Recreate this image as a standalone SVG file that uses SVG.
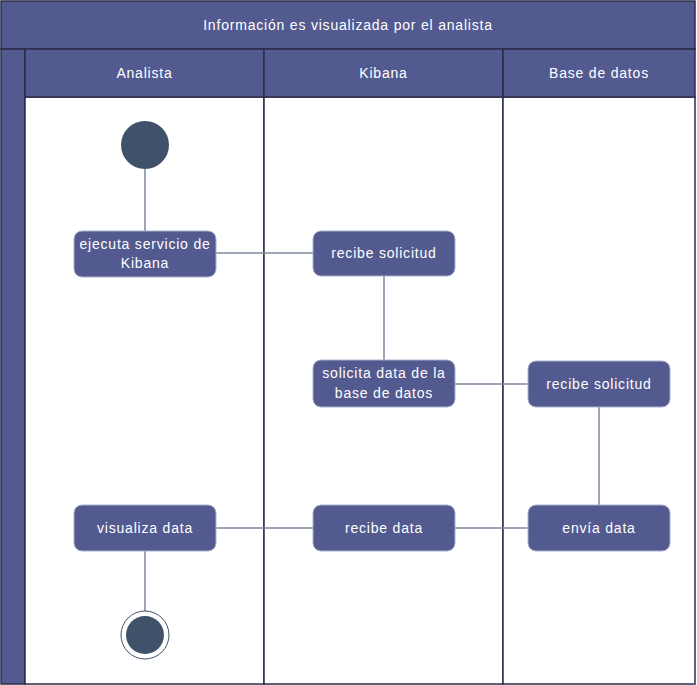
<svg xmlns="http://www.w3.org/2000/svg" width="697" height="685" viewBox="0 0 697 685">
<style>
.band{fill:#535a8f;stroke:#2b2d4a;stroke-width:1.5}
.lane{fill:#ffffff;stroke:#2b2d4a;stroke-width:1.5}
.node{fill:#535a8f;stroke:#aab0cc;stroke-width:1}
.t{font-family:"Liberation Sans",Arial,sans-serif;font-size:14px;fill:#ffffff;text-anchor:middle;letter-spacing:0.8px}
.c{stroke:#7d889b;stroke-width:1.5;fill:none}
.dot{fill:#3f5269}
</style>
<g id="pool">
<rect class="band" x="1" y="1" width="694" height="48"/>
<text class="t" x="348" y="30">Información es visualizada por el analista</text>
<rect class="band" x="1" y="49" width="24" height="635"/>
</g>
<g id="lane-analista">
<rect class="lane" x="25" y="97" width="239" height="587"/>
<rect class="band" x="25" y="49" width="239" height="48"/>
<text class="t" x="144.5" y="78">Analista</text>
</g>
<g id="lane-kibana">
<rect class="lane" x="264" y="97" width="239" height="587"/>
<rect class="band" x="264" y="49" width="239" height="48"/>
<text class="t" x="383.5" y="78">Kibana</text>
</g>
<g id="lane-bd">
<rect class="lane" x="503" y="97" width="192" height="587"/>
<rect class="band" x="503" y="49" width="192" height="48"/>
<text class="t" x="599" y="78">Base de datos</text>
</g>
<g id="connectors">
<line class="c" x1="145" y1="169" x2="145" y2="231"/>
<line class="c" x1="216" y1="253" x2="313" y2="253"/>
<line class="c" x1="384" y1="276" x2="384" y2="360"/>
<line class="c" x1="455" y1="384" x2="528" y2="384"/>
<line class="c" x1="599" y1="407" x2="599" y2="505"/>
<line class="c" x1="455" y1="528" x2="528" y2="528"/>
<line class="c" x1="216" y1="528" x2="313" y2="528"/>
<line class="c" x1="145" y1="551" x2="145" y2="611"/>
</g>
<g id="start">
<circle class="dot" cx="145" cy="145" r="24"/>
</g>
<g id="n-ejecuta">
<rect class="node" x="74" y="231" width="142" height="46" rx="8"/>
<text class="t" x="145" y="249">ejecuta servicio de</text>
<text class="t" x="145" y="268">Kibana</text>
</g>
<g id="n-recibe-k">
<rect class="node" x="313" y="231" width="142" height="45" rx="8"/>
<text class="t" x="384" y="258">recibe solicitud</text>
</g>
<g id="n-solicita">
<rect class="node" x="313" y="360" width="142" height="47" rx="8"/>
<text class="t" x="384" y="378">solicita data de la</text>
<text class="t" x="384" y="398">base de datos</text>
</g>
<g id="n-recibe-bd">
<rect class="node" x="528" y="361" width="142" height="46" rx="8"/>
<text class="t" x="599" y="389">recibe solicitud</text>
</g>
<g id="n-visualiza">
<rect class="node" x="74" y="505" width="142" height="46" rx="8"/>
<text class="t" x="145" y="533">visualiza data</text>
</g>
<g id="n-recibe-data">
<rect class="node" x="313" y="505" width="142" height="46" rx="8"/>
<text class="t" x="384" y="533">recibe data</text>
</g>
<g id="n-envia">
<rect class="node" x="528" y="505" width="142" height="46" rx="8"/>
<text class="t" x="599" y="533">envía data</text>
</g>
<g id="end">
<circle cx="145" cy="635" r="24" fill="#ffffff" stroke="#3f5269" stroke-width="1"/>
<circle class="dot" cx="145" cy="635" r="19"/>
</g>
</svg>
